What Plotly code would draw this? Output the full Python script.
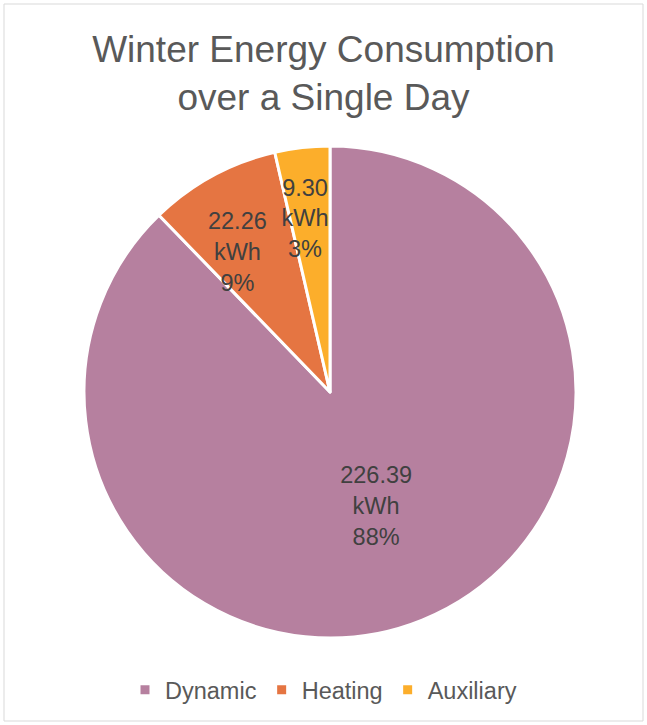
import plotly.graph_objects as go

categories = ["Dynamic", "Heating", "Auxiliary"]
values = [226.39, 22.26, 9.30]
percent_labels = ["88%", "9%", "3%"]
label_prefix = ["", "&nbsp;<br>&nbsp;<br>", "&nbsp;<br>&nbsp;<br>&nbsp;<br>"]
colors = ["#B6809F", "#E57542", "#FCAE2B"]

W, H = 647, 725
cx, cy, r = 330, 392, 246

fig = go.Figure(go.Pie(
    labels=categories,
    values=values,
    customdata=list(zip(percent_labels, label_prefix)),
    sort=False,
    direction="clockwise",
    rotation=0,
    marker=dict(colors=colors, line=dict(color="white", width=3)),
    texttemplate="%{customdata[1]}%{value:.2f}<br>kWh<br>%{customdata[0]}",
    textposition="inside",
    insidetextorientation="horizontal",
    textfont=dict(family="Liberation Sans, Arial", size=23.5, color="#404040"),
    hoverinfo="label+value+percent",
    domain=dict(x=[(cx - r) / W, (cx + r) / W], y=[1 - (cy + r) / H, 1 - (cy - r) / H]),
))

fig.update_layout(
    width=W, height=H,
    margin=dict(l=0, r=0, t=0, b=0),
    paper_bgcolor="white",
    plot_bgcolor="white",
    font=dict(family="Liberation Sans, Arial", color="#595959"),
    uniformtext=dict(minsize=23.5, mode="show"),
    title=dict(
        text="Winter Energy Consumption<br>over a Single Day",
        x=0.5, xanchor="center",
        y=1 - 62 / H, yanchor="middle",
        font=dict(size=37, color="#595959", family="Liberation Sans, Arial"),
    ),
    legend=dict(
        orientation="h",
        x=0.5, xanchor="center",
        y=1 - 690 / H, yanchor="middle",
        font=dict(size=23.5, color="#595959"),
        traceorder="normal",
    ),
    shapes=[dict(type="rect", xref="paper", yref="paper",
                 x0=4 / W, x1=1 - 4 / W, y0=4 / H, y1=1 - 4 / H,
                 line=dict(color="#D9D9D9", width=1))],
)

fig.write_html("out.html", config={"displayModeBar": False},
               post_script="document.body.style.margin='0';")
